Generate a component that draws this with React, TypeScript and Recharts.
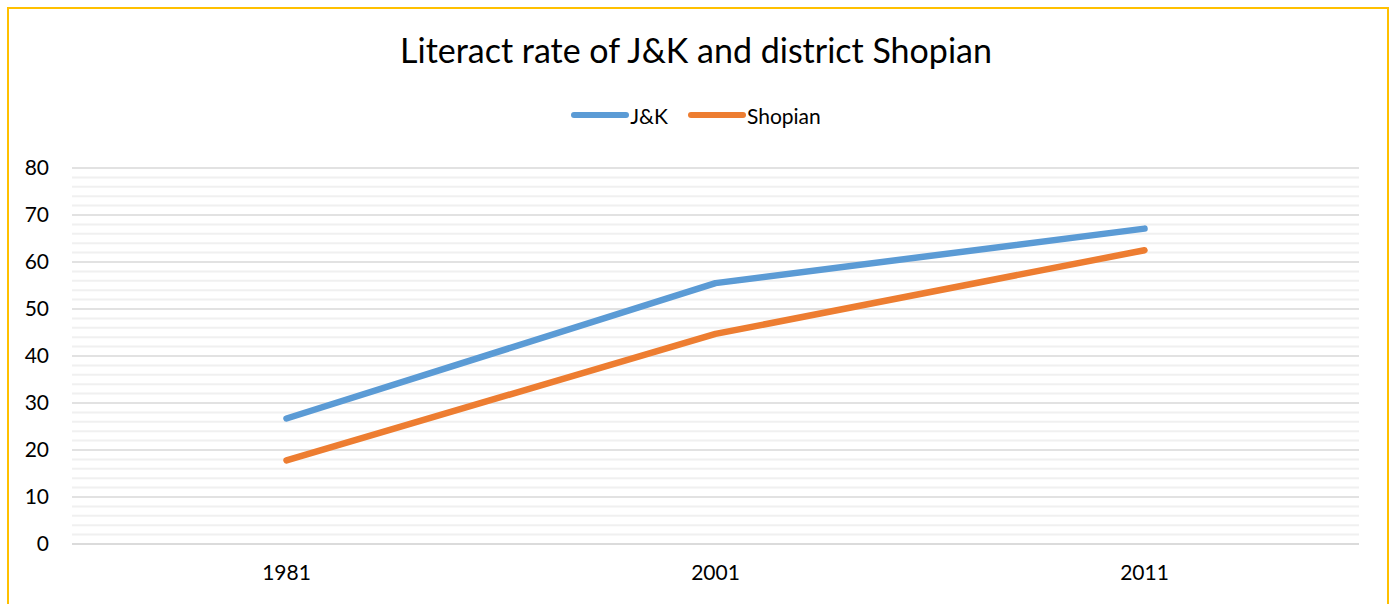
import React from 'react';
import { LineChart, Line, XAxis, YAxis, CartesianGrid, ReferenceLine } from 'recharts';

// literacy rate (%)
const years = ['1981', '2001', '2011'];
const jkRate = [26.7, 55.5, 67.1];
const shopianRate = [17.8, 44.7, 62.5];

const majorTicks = [0, 10, 20, 30, 40, 50, 60, 70, 80];
const minorTicks = [2, 4, 6, 8, 12, 14, 16, 18, 22, 24, 26, 28, 32, 34, 36, 38, 42, 44, 46, 48, 52, 54, 56, 58, 62, 64, 66, 68, 72, 74, 76, 78];

const seriesInfo = [
  { key: 'jk', name: 'J&K', color: '#5B9BD5' },
  { key: 'shopian', name: 'Shopian', color: '#ED7D31' },
];

const data = years.map((y, i) => ({ year: y, jk: jkRate[i], shopian: shopianRate[i] }));

const FONT = 'Lato, "Open Sans", sans-serif';

export default function App() {
  return (
    <div style={{ position: 'absolute', left: 0, top: 0, width: 1392, height: 604, overflow: 'hidden', background: '#fff', fontFamily: FONT }}>
      <div style={{ position: 'absolute', left: 7, top: 7, width: 1382, height: 640, border: '2.5px solid #FFC000', boxSizing: 'border-box' }} />
      <div style={{ position: 'absolute', left: 0, top: 29, width: 1392, textAlign: 'center', fontSize: 34, lineHeight: '42px', color: '#000' }}>
        Literact rate of J&amp;K and district Shopian
      </div>
      <div style={{ position: 'absolute', left: 0, top: 103, width: 1392, height: 24, display: 'flex', justifyContent: 'center', alignItems: 'center', fontSize: 21, color: '#000' }}>
        {seriesInfo.map((s, i) => (
          <div key={s.key} style={{ display: 'flex', alignItems: 'center', marginLeft: i === 0 ? 0 : 20 }}>
            <svg width={58} height={10}>
              <line x1={3} y1={5} x2={55} y2={5} stroke={s.color} strokeWidth={6} strokeLinecap="round" />
            </svg>
            <span style={{ marginLeft: 1 }}>{s.name}</span>
          </div>
        ))}
      </div>
      <div style={{ position: 'absolute', left: 0, top: 0 }}>
        <LineChart width={1392} height={604} data={data} margin={{ top: 168, right: 33, left: 0, bottom: 30 }}>
          {minorTicks.map((v) => (
            <ReferenceLine key={v} y={v} stroke="#f0f0f0" strokeWidth={2} ifOverflow="extendDomain" />
          ))}
          <CartesianGrid vertical={false} stroke="#d9d9d9" strokeWidth={1.5} />
          <XAxis
            dataKey="year"
            scale="band"
            axisLine={{ stroke: '#d9d9d9', strokeWidth: 1.5 }}
            tickLine={false}
            tickSize={0}
            tickMargin={21}
            height={30}
            tick={{ fill: '#000', fontSize: 21, fontFamily: FONT }}
          />
          <YAxis
            domain={[0, 80]}
            ticks={majorTicks}
            axisLine={false}
            tickLine={false}
            tickSize={0}
            tickMargin={23}
            width={72}
            tick={{ fill: '#000', fontSize: 21, fontFamily: FONT }}
          />
          {seriesInfo.map((s) => (
            <Line
              key={s.key}
              type="linear"
              dataKey={s.key}
              name={s.name}
              stroke={s.color}
              strokeWidth={6.5}
              strokeLinecap="round"
              strokeLinejoin="round"
              dot={false}
              activeDot={false}
              isAnimationActive={false}
            />
          ))}
        </LineChart>
      </div>
    </div>
  );
}
